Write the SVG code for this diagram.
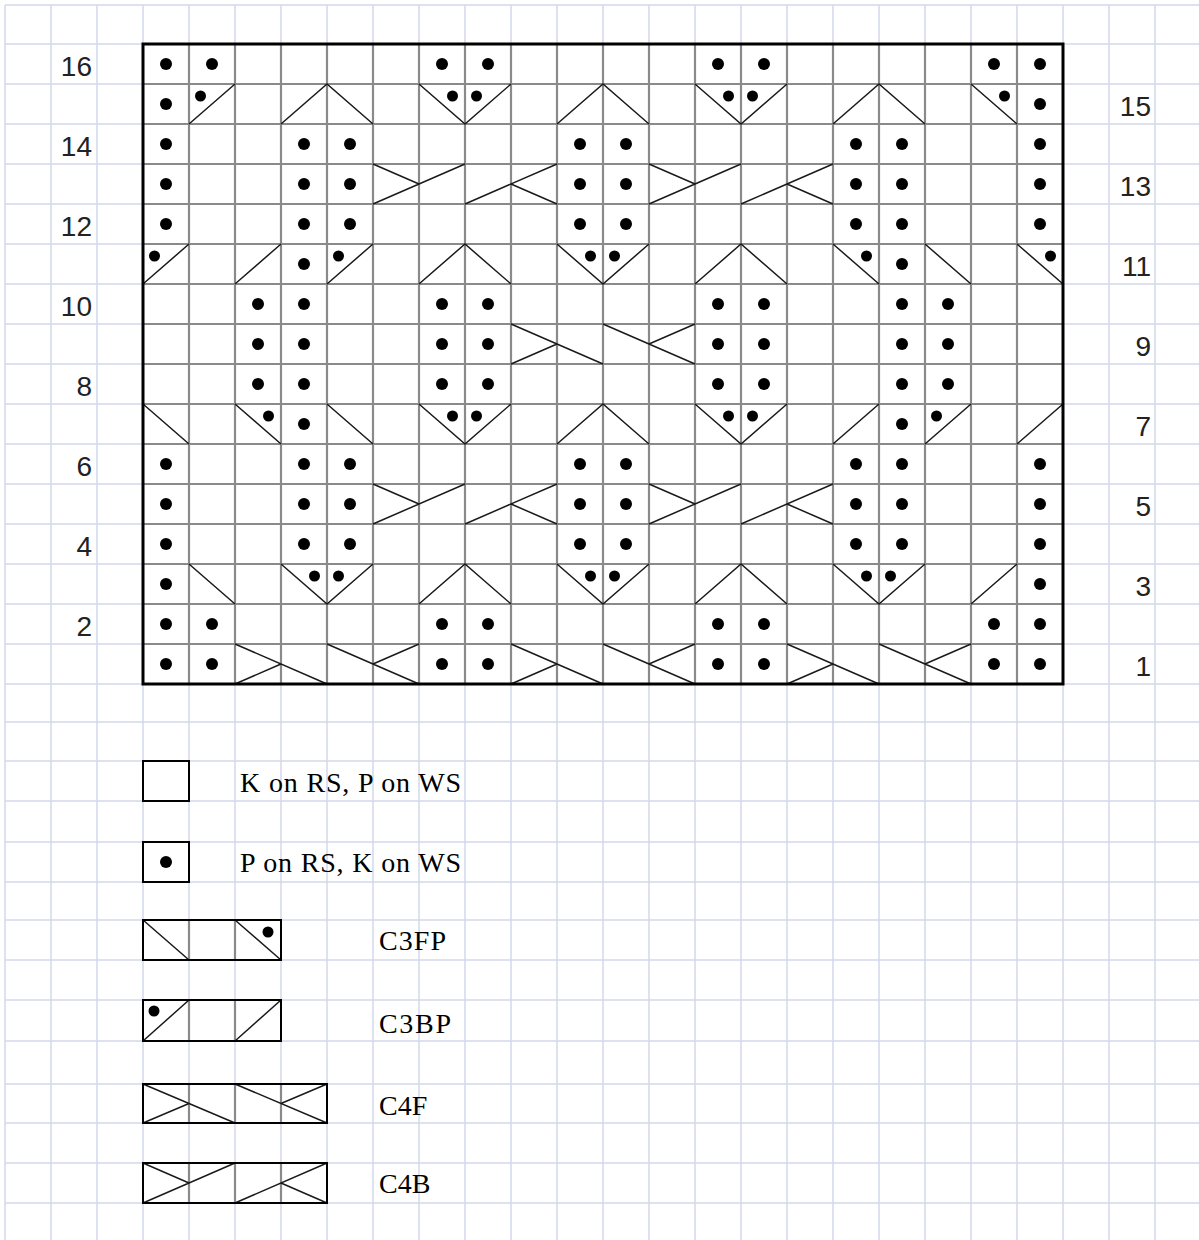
<svg xmlns="http://www.w3.org/2000/svg" width="1199" height="1240" viewBox="0 0 1199 1240">
<style>
.bg{stroke:#d4d7ea;stroke-width:1.5;fill:none}
.cg{stroke:#8a8a8a;stroke-width:2.2;fill:none}
.bd{stroke:#000;stroke-width:3;fill:none}
.lb{stroke:#000;stroke-width:2;fill:#fff}
.sym{stroke:#1a1a1a;stroke-width:1.5;fill:none}
.d{fill:#000}
.num{font-family:"Liberation Sans",Arial,sans-serif;font-size:28px;fill:#222;text-anchor:end}
.leg{font-family:"Liberation Serif","Times New Roman",serif;font-size:28px;fill:#000}
</style>
<rect width="1199" height="1240" fill="#fff"/>
<g id="paper-grid" class="bg">
<path d="M5 5V1240M51 5V1240M97 5V1240M143 5V1240M189 5V1240M235 5V1240M281 5V1240M327 5V1240M373 5V1240M419 5V1240M465 5V1240M511 5V1240M557 5V1240M603 5V1240M649 5V1240M695 5V1240M741 5V1240M787 5V1240M833 5V1240M879 5V1240M925 5V1240M971 5V1240M1017 5V1240M1063 5V1240M1109 5V1240M1155 5V1240"/>
<path d="M5 5H1199M5 44H1199M5 84H1199M5 124H1199M5 164H1199M5 204H1199M5 244H1199M5 284H1199M5 324H1199M5 364H1199M5 404H1199M5 444H1199M5 484H1199M5 524H1199M5 564H1199M5 604H1199M5 644H1199M5 684H1199M5 722H1199M5 761H1199M5 801H1199M5 842H1199M5 882H1199M5 920H1199M5 960H1199M5 1000H1199M5 1041H1199M5 1084H1199M5 1123H1199M5 1163H1199M5 1203H1199"/>
</g>
<g id="chart">
<rect x="143" y="44" width="920" height="640" fill="#fff"/>
<path class="cg" d="M189 44V684M235 44V684M281 44V684M327 44V684M373 44V684M419 44V684M465 44V684M511 44V684M557 44V684M603 44V684M649 44V684M695 44V684M741 44V684M787 44V684M833 44V684M879 44V684M925 44V684M971 44V684M1017 44V684M143 84H1063M143 124H1063M143 164H1063M143 204H1063M143 244H1063M143 284H1063M143 324H1063M143 364H1063M143 404H1063M143 444H1063M143 484H1063M143 524H1063M143 564H1063M143 604H1063M143 644H1063"/>
<g id="symbols" class="sym">
<path id="row15-lines" d="M189 124L235 84M281 124L327 84L373 124M419 84L465 124L511 84M557 124L603 84L649 124M695 84L741 124L787 84M833 124L879 84L925 124M971 84L1017 124"/>
<path id="row13-lines" d="M373 164L419 184M373 204L465 164M465 204L557 164M511 184L557 204M649 164L695 184M649 204L741 164M741 204L833 164M787 184L833 204"/>
<path id="row11-lines" d="M143 284L189 244M235 284L281 244M327 284L373 244M419 284L465 244L511 284M557 244L603 284L649 244M695 284L741 244L787 284M833 244L879 284M925 244L971 284M1017 244L1063 284"/>
<path id="row9-lines" d="M511 324L603 364M511 364L557 344M603 324L695 364M649 344L695 324"/>
<path id="row7-lines" d="M143 404L189 444M235 404L281 444M327 404L373 444M419 404L465 444L511 404M557 444L603 404L649 444M695 404L741 444L787 404M833 444L879 404M925 444L971 404M1017 444L1063 404"/>
<path id="row5-lines" d="M373 484L419 504M373 524L465 484M465 524L557 484M511 504L557 524M649 484L695 504M649 524L741 484M741 524L833 484M787 504L833 524"/>
<path id="row3-lines" d="M189 564L235 604M281 564L327 604L373 564M419 604L465 564L511 604M557 564L603 604L649 564M695 604L741 564L787 604M833 564L879 604L925 564M971 604L1017 564"/>
<path id="row1-lines" d="M235 644L327 684M235 684L281 664M327 644L419 684M373 664L419 644M511 644L603 684M511 684L557 664M603 644L695 684M649 664L695 644M787 644L879 684M787 684L833 664M879 644L971 684M925 664L971 644"/>
</g>
<g id="purl-dots" class="d">
<g id="row16-dots"><circle cx="166" cy="64" r="6"/><circle cx="212" cy="64" r="6"/><circle cx="442" cy="64" r="6"/><circle cx="488" cy="64" r="6"/><circle cx="718" cy="64" r="6"/><circle cx="764" cy="64" r="6"/><circle cx="994" cy="64" r="6"/><circle cx="1040" cy="64" r="6"/></g>
<g id="row15-dots"><circle cx="166" cy="104" r="6"/><circle cx="1040" cy="104" r="6"/><circle cx="200.5" cy="96" r="5.5"/><circle cx="452.5" cy="96" r="5.5"/><circle cx="476.5" cy="96" r="5.5"/><circle cx="728.5" cy="96" r="5.5"/><circle cx="752.5" cy="96" r="5.5"/><circle cx="1004.5" cy="96" r="5.5"/></g>
<g id="row14-dots"><circle cx="166" cy="144" r="6"/><circle cx="304" cy="144" r="6"/><circle cx="350" cy="144" r="6"/><circle cx="580" cy="144" r="6"/><circle cx="626" cy="144" r="6"/><circle cx="856" cy="144" r="6"/><circle cx="902" cy="144" r="6"/><circle cx="1040" cy="144" r="6"/></g>
<g id="row13-dots"><circle cx="166" cy="184" r="6"/><circle cx="304" cy="184" r="6"/><circle cx="350" cy="184" r="6"/><circle cx="580" cy="184" r="6"/><circle cx="626" cy="184" r="6"/><circle cx="856" cy="184" r="6"/><circle cx="902" cy="184" r="6"/><circle cx="1040" cy="184" r="6"/></g>
<g id="row12-dots"><circle cx="166" cy="224" r="6"/><circle cx="304" cy="224" r="6"/><circle cx="350" cy="224" r="6"/><circle cx="580" cy="224" r="6"/><circle cx="626" cy="224" r="6"/><circle cx="856" cy="224" r="6"/><circle cx="902" cy="224" r="6"/><circle cx="1040" cy="224" r="6"/></g>
<g id="row11-dots"><circle cx="304" cy="264" r="6"/><circle cx="902" cy="264" r="6"/><circle cx="154.5" cy="256" r="5.5"/><circle cx="338.5" cy="256" r="5.5"/><circle cx="590.5" cy="256" r="5.5"/><circle cx="614.5" cy="256" r="5.5"/><circle cx="866.5" cy="256" r="5.5"/><circle cx="1050.5" cy="256" r="5.5"/></g>
<g id="row10-dots"><circle cx="258" cy="304" r="6"/><circle cx="304" cy="304" r="6"/><circle cx="442" cy="304" r="6"/><circle cx="488" cy="304" r="6"/><circle cx="718" cy="304" r="6"/><circle cx="764" cy="304" r="6"/><circle cx="902" cy="304" r="6"/><circle cx="948" cy="304" r="6"/></g>
<g id="row9-dots"><circle cx="258" cy="344" r="6"/><circle cx="304" cy="344" r="6"/><circle cx="442" cy="344" r="6"/><circle cx="488" cy="344" r="6"/><circle cx="718" cy="344" r="6"/><circle cx="764" cy="344" r="6"/><circle cx="902" cy="344" r="6"/><circle cx="948" cy="344" r="6"/></g>
<g id="row8-dots"><circle cx="258" cy="384" r="6"/><circle cx="304" cy="384" r="6"/><circle cx="442" cy="384" r="6"/><circle cx="488" cy="384" r="6"/><circle cx="718" cy="384" r="6"/><circle cx="764" cy="384" r="6"/><circle cx="902" cy="384" r="6"/><circle cx="948" cy="384" r="6"/></g>
<g id="row7-dots"><circle cx="304" cy="424" r="6"/><circle cx="902" cy="424" r="6"/><circle cx="268.5" cy="416" r="5.5"/><circle cx="452.5" cy="416" r="5.5"/><circle cx="476.5" cy="416" r="5.5"/><circle cx="728.5" cy="416" r="5.5"/><circle cx="752.5" cy="416" r="5.5"/><circle cx="936.5" cy="416" r="5.5"/></g>
<g id="row6-dots"><circle cx="166" cy="464" r="6"/><circle cx="304" cy="464" r="6"/><circle cx="350" cy="464" r="6"/><circle cx="580" cy="464" r="6"/><circle cx="626" cy="464" r="6"/><circle cx="856" cy="464" r="6"/><circle cx="902" cy="464" r="6"/><circle cx="1040" cy="464" r="6"/></g>
<g id="row5-dots"><circle cx="166" cy="504" r="6"/><circle cx="304" cy="504" r="6"/><circle cx="350" cy="504" r="6"/><circle cx="580" cy="504" r="6"/><circle cx="626" cy="504" r="6"/><circle cx="856" cy="504" r="6"/><circle cx="902" cy="504" r="6"/><circle cx="1040" cy="504" r="6"/></g>
<g id="row4-dots"><circle cx="166" cy="544" r="6"/><circle cx="304" cy="544" r="6"/><circle cx="350" cy="544" r="6"/><circle cx="580" cy="544" r="6"/><circle cx="626" cy="544" r="6"/><circle cx="856" cy="544" r="6"/><circle cx="902" cy="544" r="6"/><circle cx="1040" cy="544" r="6"/></g>
<g id="row3-dots"><circle cx="166" cy="584" r="6"/><circle cx="1040" cy="584" r="6"/><circle cx="314.5" cy="576" r="5.5"/><circle cx="338.5" cy="576" r="5.5"/><circle cx="590.5" cy="576" r="5.5"/><circle cx="614.5" cy="576" r="5.5"/><circle cx="866.5" cy="576" r="5.5"/><circle cx="890.5" cy="576" r="5.5"/></g>
<g id="row2-dots"><circle cx="166" cy="624" r="6"/><circle cx="212" cy="624" r="6"/><circle cx="442" cy="624" r="6"/><circle cx="488" cy="624" r="6"/><circle cx="718" cy="624" r="6"/><circle cx="764" cy="624" r="6"/><circle cx="994" cy="624" r="6"/><circle cx="1040" cy="624" r="6"/></g>
<g id="row1-dots"><circle cx="166" cy="664" r="6"/><circle cx="212" cy="664" r="6"/><circle cx="442" cy="664" r="6"/><circle cx="488" cy="664" r="6"/><circle cx="718" cy="664" r="6"/><circle cx="764" cy="664" r="6"/><circle cx="994" cy="664" r="6"/><circle cx="1040" cy="664" r="6"/></g>
</g>
<rect class="bd" x="143" y="44" width="920" height="640"/>
</g>
<g id="row-numbers" class="num">
<text x="92" y="76">16</text>
<text x="92" y="156">14</text>
<text x="92" y="236">12</text>
<text x="92" y="316">10</text>
<text x="92" y="396">8</text>
<text x="92" y="476">6</text>
<text x="92" y="556">4</text>
<text x="92" y="636">2</text>
<text x="1151" y="116">15</text>
<text x="1151" y="196">13</text>
<text x="1151" y="276">11</text>
<text x="1151" y="356">9</text>
<text x="1151" y="436">7</text>
<text x="1151" y="516">5</text>
<text x="1151" y="596">3</text>
<text x="1151" y="676">1</text>
</g>
<g id="legend-knit">
<rect class="lb" x="143" y="761" width="46" height="40"/>
<text class="leg" x="240" y="792" textLength="221" lengthAdjust="spacing">K on RS, P on WS</text>
</g>
<g id="legend-purl">
<rect class="lb" x="143" y="842" width="46" height="40"/>
<circle class="d" cx="166" cy="862" r="6"/>
<text class="leg" x="240" y="872" textLength="221" lengthAdjust="spacing">P on RS, K on WS</text>
</g>
<g id="legend-c3fp">
<rect class="lb" x="143" y="920" width="138" height="40"/>
<path class="cg" d="M189 921V959M235 921V959"/>
<path class="sym" d="M143 920L189 960M235 920L281 960"/>
<circle class="d" cx="268" cy="932" r="5.5"/>
<rect x="143" y="920" width="138" height="40" fill="none" stroke="#000" stroke-width="2"/>
<text class="leg" x="379" y="950" textLength="67" lengthAdjust="spacing">C3FP</text>
</g>
<g id="legend-c3bp">
<rect class="lb" x="143" y="1000" width="138" height="41"/>
<path class="cg" d="M189 1001V1040M235 1001V1040"/>
<path class="sym" d="M143 1041L189 1000M235 1041L281 1000"/>
<circle class="d" cx="154" cy="1011" r="5.5"/>
<rect x="143" y="1000" width="138" height="41" fill="none" stroke="#000" stroke-width="2"/>
<text class="leg" x="379" y="1033" textLength="72" lengthAdjust="spacing">C3BP</text>
</g>
<g id="legend-c4f">
<rect class="lb" x="143" y="1084" width="184" height="39"/>
<path class="cg" d="M189 1085V1122M235 1085V1122M281 1085V1122"/>
<path class="sym" d="M143 1084L235 1123M143 1123L189 1103.5M235 1084L327 1123M281 1103.5L327 1084"/>
<rect x="143" y="1084" width="184" height="39" fill="none" stroke="#000" stroke-width="2"/>
<text class="leg" x="379" y="1115">C4F</text>
</g>
<g id="legend-c4b">
<rect class="lb" x="143" y="1163" width="184" height="40"/>
<path class="cg" d="M189 1164V1202M235 1164V1202M281 1164V1202"/>
<path class="sym" d="M143 1163L189 1183M143 1203L235 1163M235 1203L327 1163M281 1183L327 1203"/>
<rect x="143" y="1163" width="184" height="40" fill="none" stroke="#000" stroke-width="2"/>
<text class="leg" x="379" y="1193">C4B</text>
</g>
</svg>
